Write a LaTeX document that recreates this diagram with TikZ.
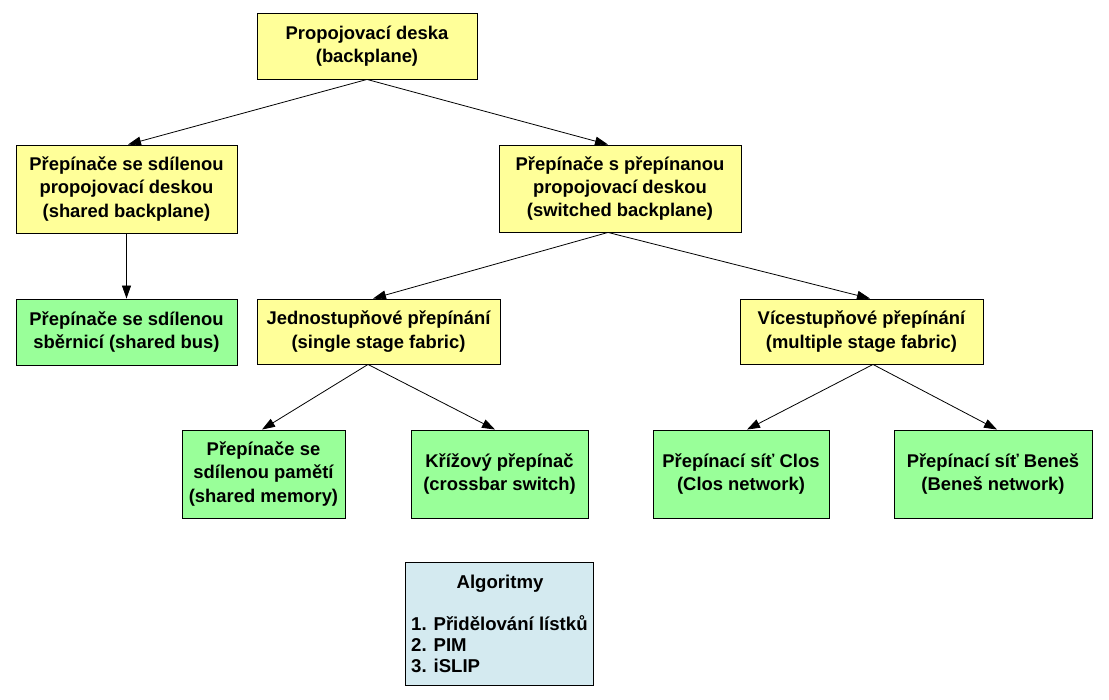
\documentclass[tikz,border=0pt]{standalone}
\usepackage{fontspec}
\setmainfont{Liberation Sans}
\usetikzlibrary{arrows.meta}
\definecolor{yel}{HTML}{FFFF99}
\definecolor{grn}{HTML}{99FF99}
\definecolor{lblue}{HTML}{D4EAF0}
\tikzset{
  box/.style={draw=black, line width=0.9pt, inner sep=0pt, align=center,
    font=\bfseries\fontsize{18.4}{23.4}\selectfont},
  ybox/.style={box, fill=yel},
  gbox/.style={box, fill=grn},
  bbox/.style={box, fill=lblue},
  atext/.style={inner sep=0pt, font=\bfseries\fontsize{18.6}{21}\selectfont},
  conn/.style={draw=black, line width=0.8pt, -{Triangle[length=13pt,width=9pt]}}
}
\begin{document}
\begin{tikzpicture}[x=1pt,y=-1pt]
\useasboundingbox[fill=white] (0,0) rectangle (1109,700);
\node[ybox, minimum width=220pt, minimum height=66pt] (top) at (367,46) {Propojovací deska\\(backplane)};
\node[ybox, minimum width=221pt, minimum height=88pt] (sb) at (126.5,189) {Přepínače se sdílenou\\propojovací deskou\\(shared backplane)};
\node[ybox, minimum width=242pt, minimum height=87pt] (swb) at (620,188.5) {Přepínače s přepínanou\\propojovací deskou\\(switched backplane)};
\node[gbox, minimum width=221pt, minimum height=66pt] (bus) at (126.5,332) {Přepínače se sdílenou\\sběrnicí (shared bus)};
\node[ybox, minimum width=243pt, minimum height=65pt] (single) at (378.5,331.5) {Jednostupňové přepínání\\(single stage fabric)};
\node[ybox, minimum width=243pt, minimum height=65pt] (multi) at (861.5,331.5) {Vícestupňové přepínání\\(multiple stage fabric)};
\node[gbox, minimum width=163pt, minimum height=88pt] (mem) at (263.5,474) {Přepínače se\\sdílenou pamětí\\(shared memory)};
\node[gbox, minimum width=177pt, minimum height=88pt] (cross) at (499.5,474) {Křížový přepínač\\(crossbar switch)};
\node[gbox, minimum width=176pt, minimum height=88pt] (clos) at (741,474) {Přepínací síť Clos\\(Clos network)};
\node[gbox, minimum width=198pt, minimum height=88pt] (benes) at (993,474) {Přepínací síť Beneš\\(Beneš network)};
\node[bbox, minimum width=188pt, minimum height=123pt] (alg) at (499,623.5) {};
\node[atext, anchor=base] (algh) at (500,588) {Algoritmy};
\node[atext, anchor=base west] (alg1) at (411,630) {1. Přidělování lístků};
\node[atext, anchor=base west] (alg2) at (411,651) {2. PIM};
\node[atext, anchor=base west] (alg3) at (411,672) {3. iSLIP};
\draw[conn] (top.south) -- ([xshift=1.5pt]sb.north);
\draw[conn] (top.south) -- ([xshift=-12pt]swb.north);
\draw[conn] (sb.south) -- (bus.north);
\draw[conn] ([xshift=-12pt]swb.south) -- ([xshift=-5.5pt]single.north);
\draw[conn] ([xshift=-12pt]swb.south) -- ([xshift=8.5pt]multi.north);
\draw[conn] ([xshift=-10.5pt]single.south) -- ([xshift=-1.5pt]mem.north);
\draw[conn] ([xshift=-10.5pt]single.south) -- ([xshift=-4.5pt]cross.north);
\draw[conn] ([xshift=11.5pt]multi.south) -- ([xshift=6pt]clos.north);
\draw[conn] ([xshift=11.5pt]multi.south) -- ([xshift=4pt]benes.north);
\end{tikzpicture}
\end{document}
